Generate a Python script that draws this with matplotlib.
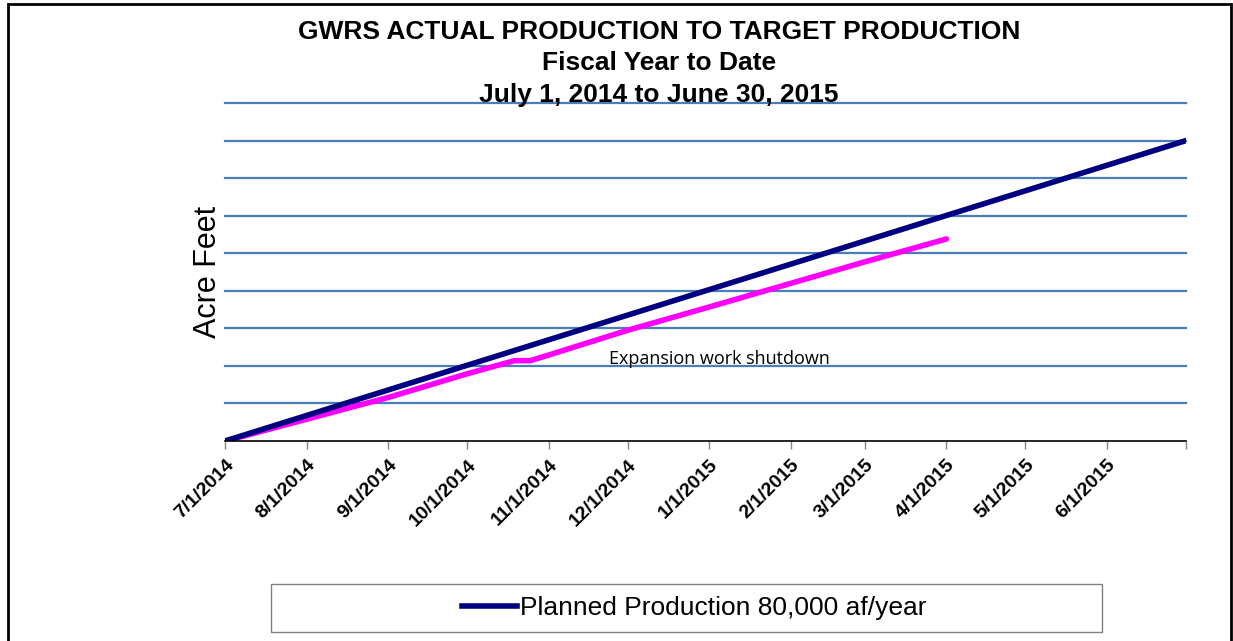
import matplotlib
matplotlib.use("Agg")
import matplotlib.pyplot as plt
from matplotlib.patches import Rectangle
from matplotlib.lines import Line2D
import pandas as pd

# ---- data ----
planned_dates = ["2014-07-01", "2015-07-01"]
planned_values = [0, 80000]

actual_dates = ["2014-07-01", "2014-08-01", "2014-09-01", "2014-10-01", "2014-10-19",
                "2014-10-25", "2014-11-01", "2014-12-01", "2015-01-01", "2015-02-01",
                "2015-03-01", "2015-04-01"]
actual_values = [0, 5800, 11600, 17900, 21400, 21400, 22900, 29500, 35700, 42000,
                 47700, 53800]

tick_dates = ["2014-07-01", "2014-08-01", "2014-09-01", "2014-10-01", "2014-11-01",
              "2014-12-01", "2015-01-01", "2015-02-01", "2015-03-01", "2015-04-01",
              "2015-05-01", "2015-06-01"]
tick_labels = ["7/1/2014", "8/1/2014", "9/1/2014", "10/1/2014", "11/1/2014", "12/1/2014",
               "1/1/2015", "2/1/2015", "3/1/2015", "4/1/2015", "5/1/2015", "6/1/2015"]
grid_values = list(range(0, 90001, 10000))

title_lines = ["GWRS ACTUAL PRODUCTION TO TARGET PRODUCTION", "Fiscal Year to Date",
               "July 1, 2014 to June 30, 2015"]
annotation_text = "Expansion work shutdown"
legend_label = "Planned Production 80,000 af/year"

# ---- figure ----
W, H = 1233, 641
fig = plt.figure(figsize=(W / 100, H / 100), dpi=100)
ax = fig.add_axes([225 / W, 1 - 441 / H, (1186 - 225) / W, (441 - 103) / H])

pd_dates = pd.to_datetime(planned_dates)
ad_dates = pd.to_datetime(actual_dates)

for gv in grid_values[1:]:
    ax.axhline(gv, color="#4a7ebb", lw=1.6, zorder=1, clip_on=False)

ax.plot(ad_dates, actual_values, color="#ff00ff", lw=4, solid_capstyle="round",
        solid_joinstyle="round", zorder=3)
ax.plot(pd_dates, planned_values, color="#000080", lw=4, solid_capstyle="round", zorder=4)

ax.set_xlim(pd.Timestamp("2014-07-01"), pd.Timestamp("2015-07-01"))
ax.set_ylim(0, 90000)

ticks = list(pd.to_datetime(tick_dates)) + [pd.Timestamp("2015-07-01")]
ax.set_xticks(ticks)
ax.set_xticklabels(tick_labels + [""], rotation=45, ha="right", rotation_mode="anchor",
                   fontfamily="Liberation Sans", fontweight="bold", fontsize=14)
ax.tick_params(axis="x", direction="out", length=6, width=1, color="#888888", pad=5)
ax.set_yticks([])
for s in ["left", "right", "top"]:
    ax.spines[s].set_visible(False)
ax.spines["bottom"].set_color("black")
ax.spines["bottom"].set_linewidth(1.2)
ax.spines["bottom"].set_zorder(5)

ax.set_ylabel("Acre Feet", fontfamily="Liberation Sans", fontsize=22, labelpad=1.5)

ax.text(pd.Timestamp("2014-11-24"), 20400, annotation_text, fontfamily="Open Sans",
        fontsize=13, va="baseline", ha="left", zorder=6)

# titles
ys = [32, 63, 95]
for t, y in zip(title_lines, ys):
    fig.text(659 / W, 1 - y / H, t, ha="center", va="center", fontfamily="Liberation Sans",
             fontweight="bold", fontsize=19)

# legend
handle = Line2D([], [], color="#000080", lw=4)
leg = fig.legend([handle], [legend_label],
                 loc="center", bbox_to_anchor=(694 / W, 1 - 608 / H),
                 prop={"family": "Liberation Sans", "size": 19},
                 frameon=False, handlelength=2.1, handletextpad=0.1)
fig.patches.append(Rectangle((271 / W, 1 - 632 / H), (1102 - 271) / W, (632 - 584) / H,
                             transform=fig.transFigure, fill=False, edgecolor="#808080", lw=1))

# outer border
fig.patches.append(Rectangle((8 / W, -0.05), (1231 - 8) / W, 1.05 - 4 / H,
                             transform=fig.transFigure, fill=False, edgecolor="black", lw=2))

fig.savefig("out.png", dpi=100)
